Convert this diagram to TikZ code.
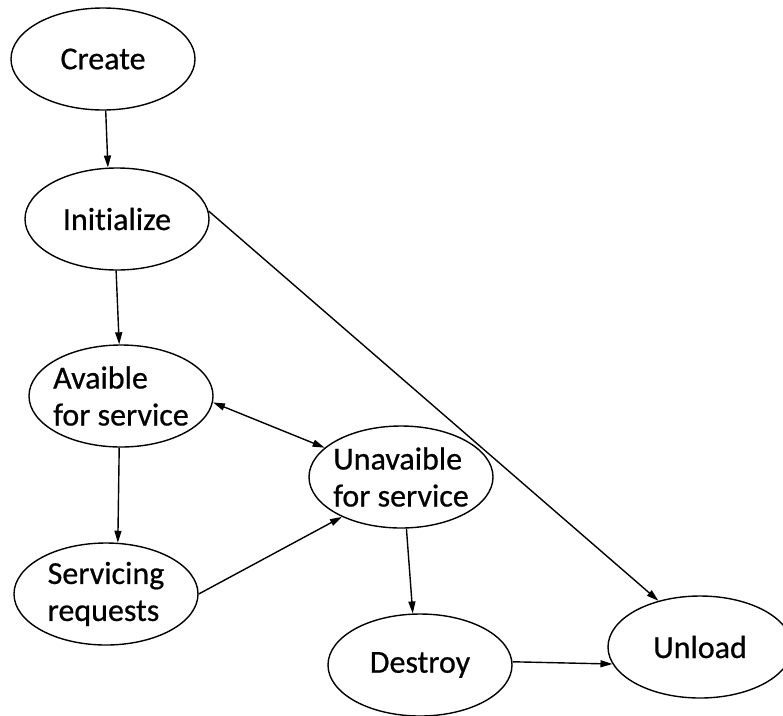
\documentclass[tikz,border=0pt]{standalone}
\usepackage{fontspec}
\newfontfamily\statefont{Carlito}[Ligatures=NoCommon, FakeBold=0.6]
\usetikzlibrary{shapes.geometric,arrows.meta}
\begin{document}
\begin{tikzpicture}[x=1pt,y=-1pt,
  state/.style={draw, ellipse, line width=1.4pt, minimum width=184pt, minimum height=102pt,
    inner sep=0pt},
  statetext/.style={align=left, inner sep=0pt, font=\statefont\fontsize{32}{37}\selectfont},
  flow/.style={line width=1.4pt, -{Triangle[length=12pt,width=7pt]}},
  twoway/.style={line width=1.4pt, {Triangle[length=12pt,width=7pt]}-{Triangle[length=12pt,width=7pt]}}]
  \useasboundingbox (0,0) rectangle (783,715);
  \clip (0,0) rectangle (783,715);
  \fill[white] (0,0) rectangle (783,715);

  % lifecycle states (the text is a centred label, so it does not widen the ellipse)
  \node[state, label={[statetext]center:Create}]               (create)     at (103,59)  {};
  \node[state, label={[statetext]center:Initialize}]           (initialize) at (117,219) {};
  \node[state, label={[statetext]center:Avaible\\for service}] (avail)      at (121,396) {};
  \node[state, label={[statetext]center:Servicing\\requests}]  (serving)    at (106,594) {};
  \node[state, label={[statetext]center:Unavaible\\for service}] (unavail)  at (401,477) {};
  \node[state, label={[statetext]center:Destroy}]              (destroy)    at (420,665) {};
  \node[state, label={[statetext]center:Unload}]               (unload)     at (700,647) {};

  % transitions
  \draw[flow]   (create.-87)      -- (initialize.100);
  \draw[flow]   (initialize.-91)  -- (avail.92);
  \draw[flow]   (initialize.5)    -- (unload.132);
  \draw[twoway] (avail.-4)        -- (unavail.159);
  \draw[flow]   (avail.-92)       -- (serving.77);
  \draw[flow]   (serving.0)       -- (unavail.214);
  \draw[flow]   (unavail.-84)     -- (destroy.98);
  \draw[flow]   (destroy.2)       -- (unload.191);
\end{tikzpicture}
\end{document}
